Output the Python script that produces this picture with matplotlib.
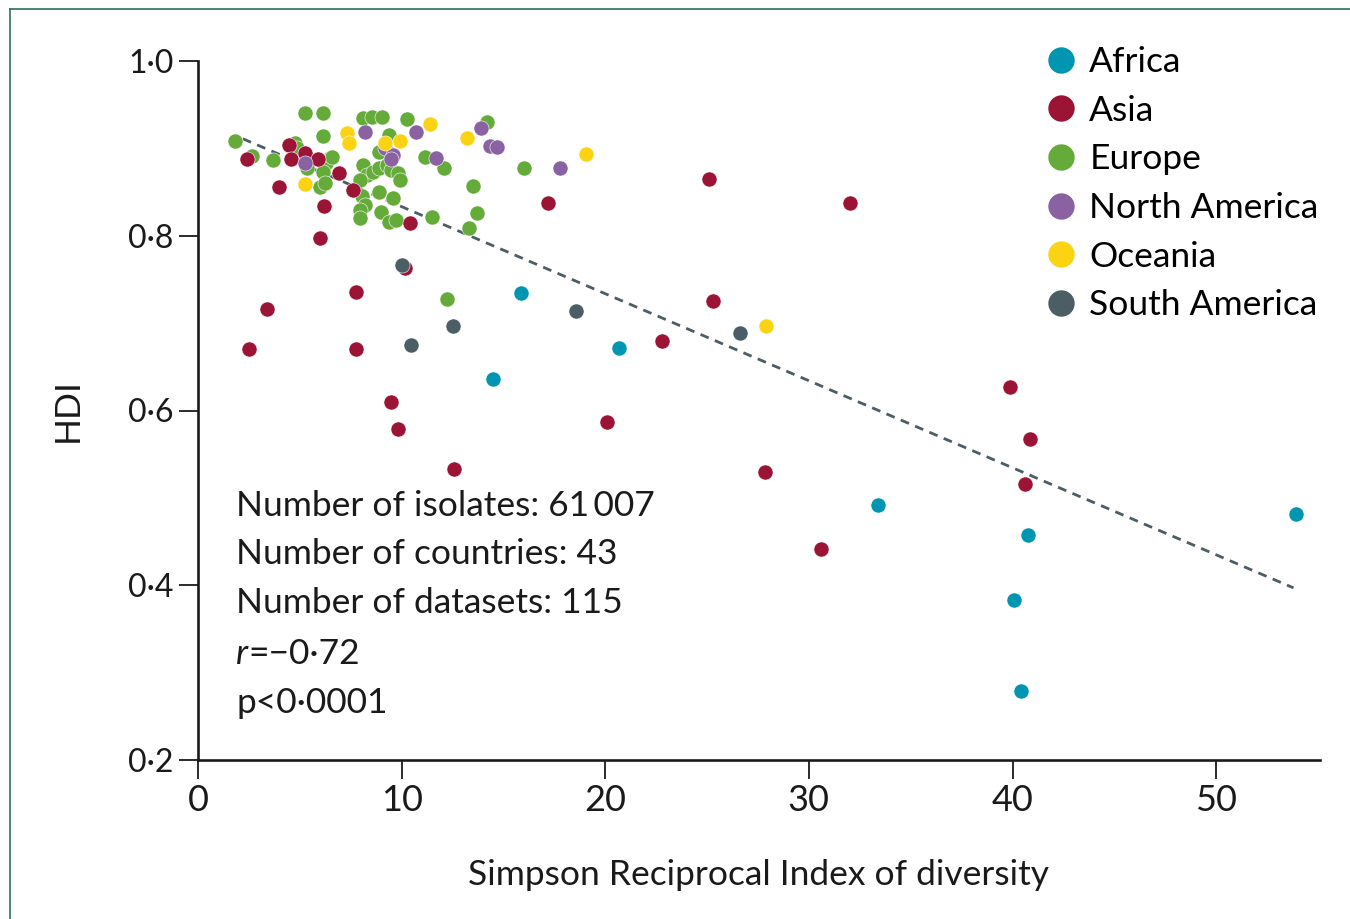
import matplotlib
matplotlib.use("Agg")
import matplotlib.pyplot as plt
from matplotlib.lines import Line2D

plt.rcParams['font.family'] = ['Lato', 'DejaVu Sans']

# values (x = Simpson reciprocal index, y = HDI)
africa_x = [15.85, 20.67, 14.5, 33.4, 53.9, 40.75, 40.07, 40.4]
africa_y = [0.735, 0.672, 0.636, 0.492, 0.481, 0.457, 0.383, 0.279]

asia_x = [2.4, 4.47, 4.57, 5.26, 5.9, 6.9, 4.0, 6.2, 6.0, 7.6, 10.4, 17.2,
          25.1, 32.0, 25.3, 22.77, 39.9, 40.85, 40.6, 30.6, 27.85, 20.1,
          10.17, 7.76, 3.37, 2.52, 7.76, 9.47, 9.84, 12.55]
asia_y = [0.888, 0.904, 0.888, 0.895, 0.888, 0.872, 0.856, 0.834, 0.797, 0.852, 0.815, 0.837,
          0.865, 0.838, 0.725, 0.680, 0.627, 0.567, 0.516, 0.442, 0.530, 0.587,
          0.763, 0.736, 0.716, 0.670, 0.670, 0.610, 0.579, 0.533]

europe_x = [1.82, 2.65, 3.7, 4.77, 4.87, 5.26, 6.14, 6.14, 5.36, 6.5, 6.3, 6.6,
            6.14, 6.0, 6.24, 8.1, 8.55, 9.05, 10.27, 9.4, 8.9, 11.15, 12.1, 8.1,
            8.3, 8.6, 8.9, 9.3, 9.5, 9.8, 9.9, 7.96, 8.9, 9.6, 8.06, 8.2,
            7.96, 9.0, 7.96, 9.4, 9.7, 11.5, 14.2, 16.0, 13.5, 13.7, 13.3, 12.22]
europe_y = [0.908, 0.891, 0.887, 0.906, 0.900, 0.941, 0.941, 0.914, 0.878, 0.889, 0.883, 0.890,
            0.873, 0.856, 0.860, 0.935, 0.936, 0.936, 0.934, 0.915, 0.896, 0.890, 0.878, 0.881,
            0.870, 0.873, 0.877, 0.881, 0.875, 0.872, 0.864, 0.864, 0.850, 0.843, 0.845, 0.835,
            0.830, 0.827, 0.820, 0.816, 0.818, 0.822, 0.930, 0.877, 0.857, 0.826, 0.809, 0.728]

namerica_x = [5.26, 8.2, 10.7, 9.2, 9.6, 9.5, 11.7, 13.9, 14.35, 14.7, 17.8]
namerica_y = [0.883, 0.919, 0.919, 0.900, 0.892, 0.888, 0.889, 0.923, 0.903, 0.902, 0.877]

oceania_x = [5.26, 7.3, 7.4, 9.2, 9.9, 11.4, 13.2, 19.07, 27.9]
oceania_y = [0.859, 0.918, 0.906, 0.906, 0.909, 0.928, 0.912, 0.894, 0.697]

samerica_x = [10.04, 18.57, 12.5, 10.47, 26.6]
samerica_y = [0.767, 0.714, 0.697, 0.675, 0.689]

fit_x = [2.2, 53.8]
fit_y = [0.911, 0.397]

regions = ['Africa', 'Asia', 'Europe', 'North America', 'Oceania', 'South America']
colours = ['#0096b1', '#9b1335', '#64ab3a', '#8a62a2', '#fcd313', '#4b5d65']
xs = [africa_x, asia_x, europe_x, namerica_x, oceania_x, samerica_x]
ys = [africa_y, asia_y, europe_y, namerica_y, oceania_y, samerica_y]

x_ticks = [0, 10, 20, 30, 40, 50]
y_ticks = [0.2, 0.4, 0.6, 0.8, 1.0]

fig = plt.figure(figsize=(13.5, 9.19), dpi=100)
ax = fig.add_axes([198 / 1350, 1 - 760 / 919, 1122 / 1350, 699 / 919])

# draw order: Europe first so the other regions sit on top in the cluster
for i in [2, 0, 1, 3, 4, 5]:
    ax.scatter(xs[i], ys[i], s=118, color=colours[i], edgecolors='white',
               linewidths=0.4, zorder=3, clip_on=False)

ax.plot(fit_x, fit_y, color='#4b5d65', lw=2.0, dashes=(3.2, 2.4), zorder=2)

ax.set_xlim(0, 55.1)
ax.set_ylim(0.2, 1.0)
ax.set_xticks(x_ticks)
ax.set_yticks(y_ticks)
ax.set_xticklabels([str(t) for t in x_ticks], fontsize=26)
ax.set_yticklabels([f'{t:.1f}'.replace('.', '·') for t in y_ticks], fontsize=23)
for s in ['top', 'right']:
    ax.spines[s].set_visible(False)
for s in ['left', 'bottom']:
    ax.spines[s].set_linewidth(1.9)
    ax.spines[s].set_color('#1a1a1a')
ax.tick_params(length=13.5, width=1.3, color='#1a1a1a', labelcolor='#1a1a1a')
ax.tick_params(axis='x', pad=4)
ax.tick_params(axis='y', pad=4)

ax.set_xlabel('Simpson Reciprocal Index of diversity', fontsize=25.5, color='#1a1a1a', labelpad=30)
ax.set_ylabel('HDI', fontsize=25.5, color='#1a1a1a', labelpad=32)

# summary text
tx = 0.034
lines = ['Number of isolates: 61\u2009007', 'Number of countries: 43', 'Number of datasets: 115']
for txt, yy in zip(lines, [0.364, 0.294, 0.224]):
    ax.text(tx, yy, txt, transform=ax.transAxes, fontsize=25.5, va='center', color='#1a1a1a')
t_r = ax.text(tx, 0.152, 'r', style='italic', transform=ax.transAxes, fontsize=25.5,
              va='center', color='#1a1a1a')
ax.annotate('=\u22120·72', xy=(1, 0.5), xycoords=t_r, va='center', fontsize=25.5, color='#1a1a1a')
ax.text(tx, 0.082, 'p<0·0001', transform=ax.transAxes, fontsize=25.5, va='center', color='#1a1a1a')

handles = [Line2D([], [], marker='o', ls='', markersize=19, color=c, markeredgewidth=0)
           for c in colours]
ax.legend(handles, regions, loc='upper left', bbox_to_anchor=(1045 / 1350, 1 - 46 / 919),
          bbox_transform=fig.transFigure, frameon=False, fontsize=25.5, handlelength=0.9,
          handletextpad=0.35, labelspacing=0.47, borderpad=0, borderaxespad=0)

# journal frame along top and left edges
fig.add_artist(Line2D([10 / 1350, 10 / 1350], [0, 1 - 9 / 919], transform=fig.transFigure,
                      color='#2f6f55', lw=1.2))
fig.add_artist(Line2D([10 / 1350, 1], [1 - 9 / 919, 1 - 9 / 919], transform=fig.transFigure,
                      color='#2f6f55', lw=1.2))

fig.savefig('out.png', dpi=100)
